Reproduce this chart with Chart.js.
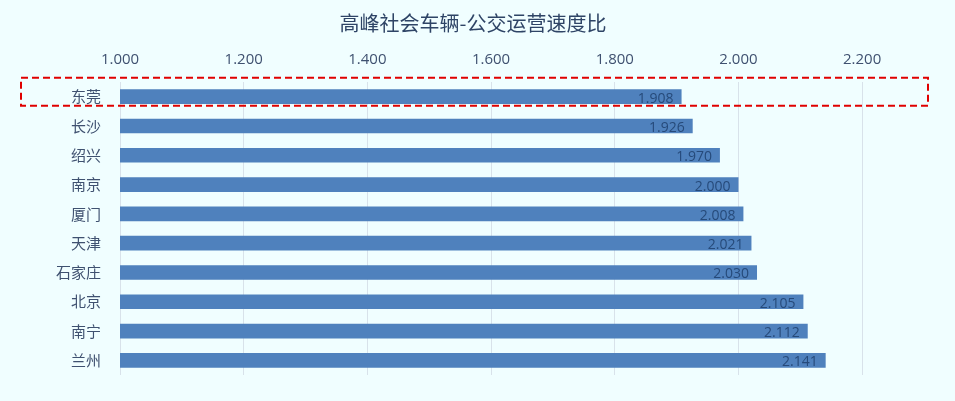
<!DOCTYPE html>
<html>
<head>
<meta charset="utf-8">
<script src="https://cdn.jsdelivr.net/npm/chart.js@4/dist/chart.umd.min.js"></script>
<style>
  html, body { margin: 0; padding: 0; background: #f0feff; }
  #wrap { width: 955px; height: 401px; }
</style>
</head>
<body>
<div id="wrap"><canvas id="speedChart" width="955" height="401"></canvas></div>
<script>
  // data
  const CITIES = ["东莞", "长沙", "绍兴", "南京", "厦门", "天津", "石家庄", "北京", "南宁", "兰州"];
  const RATIOS = [1.908, 1.926, 1.970, 2.000, 2.008, 2.021, 2.030, 2.105, 2.112, 2.141];
  const TICKS  = [1.0, 1.2, 1.4, 1.6, 1.8, 2.0, 2.2];
  const TITLE  = "高峰社会车辆-公交运营速度比";
  const HIGHLIGHT = "东莞";

  const CJK = "'Noto Sans CJK SC', 'Noto Sans', sans-serif";
  const NUM = "'Open Sans', 'Noto Sans', sans-serif";

  // title centred on the page (not on the plot)
  const pageTitle = {
    id: "pageTitle",
    afterDraw(chart) {
      const ctx = chart.ctx;
      ctx.save();
      ctx.font = "20px " + CJK;
      ctx.fillStyle = "#2e4466";
      ctx.textAlign = "center";
      ctx.textBaseline = "middle";
      ctx.fillText(TITLE, 473, 23);
      ctx.restore();
    }
  };

  // value labels at the end of each bar
  const valueLabels = {
    id: "valueLabels",
    afterDatasetsDraw(chart) {
      const ctx = chart.ctx;
      const meta = chart.getDatasetMeta(0);
      ctx.save();
      ctx.font = "14px " + NUM;
      ctx.fillStyle = "#264a7a";
      ctx.textAlign = "right";
      ctx.textBaseline = "middle";
      meta.data.forEach((bar, i) => {
        ctx.fillText(RATIOS[i].toFixed(3), bar.x - 8, bar.y + 2);
      });
      ctx.restore();
    }
  };

  // red dashed frame round the highlighted row
  const highlightBox = {
    id: "highlightBox",
    afterDatasetsDraw(chart) {
      const ctx = chart.ctx;
      const y = chart.scales.y.getPixelForValue(CITIES.indexOf(HIGHLIGHT));
      const left = 21, right = chart.chartArea.right + 4;
      ctx.save();
      ctx.strokeStyle = "#e00000";
      ctx.lineWidth = 2;
      ctx.setLineDash([7, 4]);
      ctx.strokeRect(left, y - 19, right - left, 28);
      ctx.restore();
    }
  };

  new Chart(document.getElementById("speedChart"), {
    type: "bar",
    data: {
      labels: CITIES,
      datasets: [{
        data: RATIOS,
        backgroundColor: "#4f81bd",
        borderWidth: 0,
        barPercentage: 0.5,
        categoryPercentage: 1.0
      }]
    },
    options: {
      indexAxis: "y",
      responsive: false,
      animation: false,
      layout: { padding: { left: 0, right: 31, bottom: 26, top: 33 } },
      plugins: {
        legend: { display: false },
        tooltip: { enabled: false },
        title: { display: false }
      },
      scales: {
        x: {
          position: "top",
          min: 1.0,
          max: 2.3,
          afterBuildTicks(scale) { scale.ticks = TICKS.map(v => ({ value: v })); },
          afterFit(scale) { scale.height = 49; },
          ticks: {
            color: "#3f5170",
            padding: 13,
            font: { family: NUM, size: 15 },
            callback: v => Number(v).toFixed(3)
          },
          grid: { color: "#d8e2ea", drawTicks: false },
          border: { display: false }
        },
        y: {
          afterFit(scale) { scale.width = 120; },
          ticks: {
            color: "#3f5170",
            padding: 11,
            font: { family: CJK, size: 15 }
          },
          grid: { display: false },
          border: { display: false }
        }
      }
    },
    plugins: [valueLabels, highlightBox, pageTitle]
  });
</script>
</body>
</html>
